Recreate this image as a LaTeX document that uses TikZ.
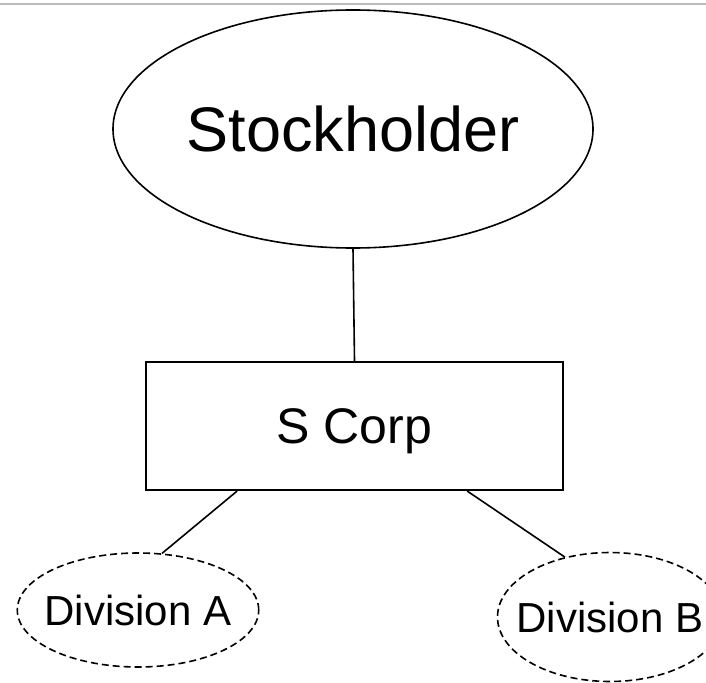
\documentclass[tikz,border=0pt]{standalone}
\usepackage{fontspec}
\setmainfont{Liberation Sans}
\usetikzlibrary{shapes.geometric, positioning}
\definecolor{rulegray}{RGB}{187,187,187}

\begin{document}
\begin{tikzpicture}[
    x=1pt, y=-1pt,
    owner/.style ={ellipse, draw=black, line width=1.6pt,
                   minimum width=480pt, minimum height=238pt,
                   inner sep=0pt, font=\fontsize{63}{70}\selectfont},
    corp/.style  ={rectangle, draw=black, line width=2.2pt,
                   minimum width=417pt, minimum height=128pt,
                   inner sep=0pt, text depth=0pt,
                   font=\fontsize{50}{56}\selectfont},
    divn/.style  ={ellipse, draw=black, line width=1.6pt,
                   dash pattern=on 7pt off 4pt,
                   inner ysep=0pt, font=\fontsize{42}{48}\selectfont},
    link/.style  ={-, line width=1.6pt, black}
]
\useasboundingbox (0,0) rectangle (706,682);

% -- top rule --
\coordinate (rl) at (0,4);
\coordinate (rr) at (706,4);
\draw[rulegray, line width=2.5pt] (rl) -- (rr);

% -- owner --
\node[owner] (stock) at (353,129) {Stockholder};

% -- corporation --
\node[corp]  (scorp) at (354.5,426) {S Corp};

% -- divisions --
\node[divn, inner xsep=-8pt, minimum width=241pt, minimum height=114pt] (diva) at (138,610) {Division A};
\node[divn, inner xsep=-14pt, minimum width=225pt, minimum height=129pt] (divb) at (610,617) {Division B};

% -- links --
\draw[link] (stock.south) -- (scorp.north);
\draw[link] (scorp.209.4) -- (diva.67);
\draw[link] (scorp.330.4) -- (divb.127);

\end{tikzpicture}
\end{document}
